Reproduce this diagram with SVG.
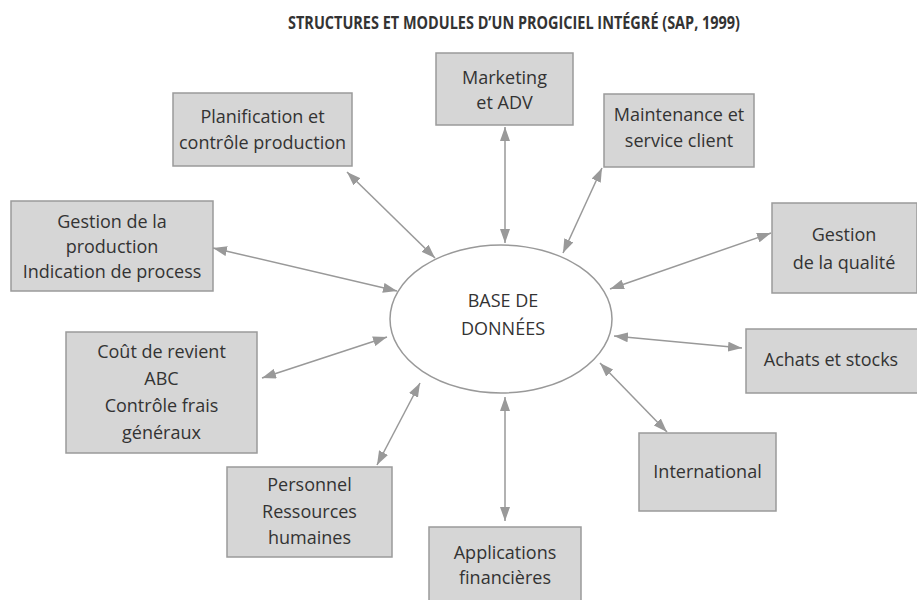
<svg xmlns="http://www.w3.org/2000/svg" width="917" height="600" viewBox="0 0 917 600">
<defs>
<style>
.box{fill:#d6d6d6;stroke:#9a9a9a;stroke-width:1.5}
.t{font-family:"Open Sans","Noto Sans","Liberation Sans",sans-serif;font-size:18px;fill:#333;text-anchor:middle}
.title{font-family:"Open Sans","Noto Sans","Liberation Sans",sans-serif;font-size:17px;font-weight:bold;fill:#333;text-anchor:middle}
.c{stroke:#999;stroke-width:1.5;fill:none;marker-start:url(#ah);marker-end:url(#ah)}
</style>
<marker id="ah" viewBox="0 0 14 10" refX="14" refY="5" markerWidth="14" markerHeight="10" markerUnits="userSpaceOnUse" orient="auto-start-reverse">
<path d="M0,0 L14,5 L0,10 Z" fill="#999"/>
</marker>
</defs>
<rect width="917" height="600" fill="#fff"/>
<text class="title" x="514" y="29" textLength="452" lengthAdjust="spacingAndGlyphs">STRUCTURES ET MODULES D’UN PROGICIEL INTÉGRÉ (SAP, 1999)</text>

<g id="connectors">
<line class="c" x1="505" y1="127" x2="505" y2="243"/>
<line class="c" x1="347" y1="172" x2="435" y2="258"/>
<line class="c" x1="602" y1="168" x2="563" y2="253"/>
<line class="c" x1="771" y1="233" x2="610" y2="289"/>
<line class="c" x1="213" y1="248" x2="397" y2="291"/>
<line class="c" x1="262" y1="378" x2="387" y2="337"/>
<line class="c" x1="377" y1="465" x2="420" y2="383"/>
<line class="c" x1="505" y1="397" x2="505" y2="521"/>
<line class="c" x1="600" y1="363" x2="667" y2="432"/>
<line class="c" x1="614" y1="336" x2="742" y2="348"/>
</g>

<g id="base">
<ellipse cx="501" cy="319" rx="111" ry="74" fill="#fff" stroke="#999" stroke-width="1.5"/>
<text class="t" x="503" y="307">BASE DE</text>
<text class="t" x="503" y="335">DONNÉES</text>
</g>

<g id="marketing">
<rect class="box" x="436" y="53" width="137" height="72"/>
<text class="t" x="504.5" y="84">Marketing</text>
<text class="t" x="504.5" y="109">et ADV</text>
</g>

<g id="planification">
<rect class="box" x="173" y="93" width="179" height="73"/>
<text class="t" x="262.5" y="123">Planification et</text>
<text class="t" x="262.5" y="149">contrôle production</text>
</g>

<g id="maintenance">
<rect class="box" x="604" y="94" width="150" height="73"/>
<text class="t" x="679" y="121">Maintenance et</text>
<text class="t" x="679" y="147">service client</text>
</g>

<g id="qualite">
<rect class="box" x="772" y="203" width="145" height="90"/>
<text class="t" x="844" y="241">Gestion</text>
<text class="t" x="844" y="269">de la qualité</text>
</g>

<g id="production">
<rect class="box" x="11" y="201" width="202" height="90"/>
<text class="t" x="112" y="228">Gestion de la</text>
<text class="t" x="112" y="253">production</text>
<text class="t" x="112" y="278">Indication de process</text>
</g>

<g id="cout">
<rect class="box" x="66" y="332" width="191" height="121"/>
<text class="t" x="161.5" y="358">Coût de revient</text>
<text class="t" x="161.5" y="385">ABC</text>
<text class="t" x="161.5" y="412">Contrôle frais</text>
<text class="t" x="161.5" y="439">généraux</text>
</g>

<g id="personnel">
<rect class="box" x="227" y="467" width="165" height="90"/>
<text class="t" x="309.5" y="491">Personnel</text>
<text class="t" x="309.5" y="518">Ressources</text>
<text class="t" x="309.5" y="544">humaines</text>
</g>

<g id="applications">
<rect class="box" x="429" y="527" width="152" height="80"/>
<text class="t" x="505" y="559">Applications</text>
<text class="t" x="505" y="584">financières</text>
</g>

<g id="international">
<rect class="box" x="639" y="433" width="137" height="78"/>
<text class="t" x="707.5" y="478">International</text>
</g>

<g id="achats">
<rect class="box" x="746" y="329" width="172" height="64"/>
<text class="t" x="831" y="366">Achats et stocks</text>
</g>
</svg>
